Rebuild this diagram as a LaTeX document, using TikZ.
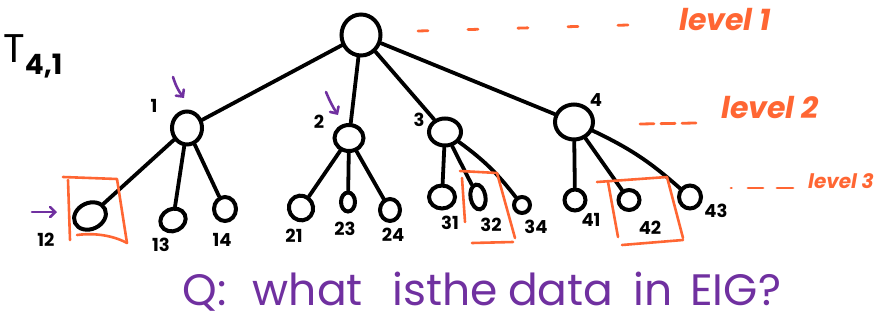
\documentclass[tikz,border=0pt]{standalone}
\usepackage{fontspec}
\setmainfont{Poppins}
\usetikzlibrary{shapes.geometric,arrows.meta}
\definecolor{inkorange}{RGB}{255,102,51}
\definecolor{inkpurple}{RGB}{112,48,160}

\begin{document}
\begin{tikzpicture}[x=1pt,y=-1pt,
  vert/.style={draw, ellipse, line width=4pt, inner sep=0pt},
  edge/.style={line width=3.8pt, line cap=round},
  lbl/.style={font=\bfseries\fontsize{18}{18}\selectfont, inner sep=0pt},
  hilite/.style={draw=inkorange, line width=2.6pt, line cap=round, line join=round},
  pointer/.style={draw=inkpurple, line width=2.6pt, line cap=round,
    -{Straight Barb[length=5pt,width=10pt,line cap=round]}},
  levtext/.style={text=inkorange, font=\bfseries\itshape\fontsize{30}{30}\selectfont, inner sep=0pt},
  levdash/.style={draw=inkorange, line width=2.8pt, line cap=round}]

\useasboundingbox (0,0) rectangle (877,321);

% tree title
\node[font=\fontsize{40}{40}\selectfont, inner sep=0pt] (title) at (33,56) {T\textsubscript{\bfseries 4,1}};

% root and level-2 vertices
\node[vert, minimum width=39pt, minimum height=41pt] (r) at (361,35) {};
\node[vert, minimum width=30pt, minimum height=33pt] (n1) at (187,128) {};
\node[vert, minimum width=29pt, minimum height=26pt] (n2) at (349,138) {};
\node[vert, minimum width=32pt, minimum height=27pt] (n3) at (445,132) {};
\node[vert, minimum width=38pt, minimum height=35pt] (n4) at (574,122) {};

% level-3 vertices
\node[vert, minimum width=33pt, minimum height=26pt, rotate=25] (n12) at (90,216) {};
\node[vert, minimum width=26pt, minimum height=22pt, rotate=25] (n13) at (173,220) {};
\node[vert, minimum width=22pt, minimum height=24pt] (n14) at (225,209) {};
\node[vert, minimum width=24pt, minimum height=25pt, rotate=30] (n21) at (301,208) {};
\node[vert, minimum width=14pt, minimum height=19pt] (n23) at (348,202) {};
\node[vert, minimum width=20pt, minimum height=22pt] (n24) at (390,210) {};
\node[vert, minimum width=26pt, minimum height=23pt] (n31) at (442,197) {};
\node[vert, minimum width=15pt, minimum height=25pt, rotate=10] (n32) at (478,197) {};
\node[vert, minimum width=16pt, minimum height=16pt] (n34) at (522,205) {};
\node[vert, minimum width=21pt, minimum height=21pt] (n41) at (575,200) {};
\node[vert, minimum width=21pt, minimum height=20pt] (n42) at (629,200) {};
\node[vert, minimum width=22pt, minimum height=23pt] (n43) at (690,197) {};

% tree edges
\draw[edge] (r) -- (n1);
\draw[edge] (r) -- (n2);
\draw[edge] (r) -- (n3);
\draw[edge] (r) -- (n4);
\draw[edge] (n1) -- (n12);
\draw[edge] (n1) -- (n13);
\draw[edge] (n1) -- (n14);
\draw[edge] (n2) -- (n21);
\draw[edge] (n2) -- (n23);
\draw[edge] (n2) -- (n24);
\draw[edge] (n3) -- (n31);
\draw[edge] (n3) -- (n32);
\draw[edge] (n3) to[bend left=8] (n34);
\draw[edge] (n4) -- (n41);
\draw[edge] (n4) -- (n42);
\draw[edge] (n4) to[bend left=8] (n43);

% vertex labels
\node[lbl] (t1) at (154,106) {1};
\node[lbl] (t2) at (319,122) {2};
\node[lbl] (t3) at (419,120) {3};
\node[lbl] (t4) at (596,100) {4};
\node[lbl] (t12) at (46,240) {12};
\node[lbl] (t13) at (161,245) {13};
\node[lbl] (t14) at (222,240) {14};
\node[lbl] (t21) at (294,236) {21};
\node[lbl] (t23) at (345,229) {23};
\node[lbl] (t24) at (393,235) {24};
\node[lbl] (t31) at (450,223) {31};
\node[lbl] (t32) at (491,225) {32};
\node[lbl] (t34) at (536,227) {34};
\node[lbl] (t41) at (591,220) {41};
\node[lbl] (t42) at (650,228) {42};
\node[lbl] (t43) at (716,211) {43};

% highlighted leaves
\draw[hilite] (63,177) -- (117,179) -- (127,243);
\draw[hilite] (68,180) -- (70,240);
\draw[hilite] (77,235) .. controls (100,232) and (118,238) .. (127,243);
\draw[hilite] (460,171) -- (497,173) -- (515,238);
\draw[hilite] (462,178) -- (465,222);
\draw[hilite] (472,243) -- (513,242);
\draw[hilite] (597,182) -- (667,177) -- (683,238);
\draw[hilite] (608,182) -- (618,237);
\draw[hilite] (622,245) -- (683,240);

% pointers
\coordinate (p1s) at (173,77);  \coordinate (p1e) at (184,98);
\coordinate (p2s) at (326,92);  \coordinate (p2e) at (338,115);
\coordinate (p3s) at (32,212);  \coordinate (p3e) at (57,212);
\draw[pointer] (p1s) to[bend right=10] (p1e);
\draw[pointer] (p2s) to[bend right=5] (p2e);
\draw[pointer] (p3s) -- (p3e);

% levels
\coordinate (d1s) at (418,31); \coordinate (d1e) at (628,25);
\coordinate (d2s) at (640,124); \coordinate (d2e) at (696,123);
\coordinate (d3s) at (731,188); \coordinate (d3e) at (793,188);
\draw[levdash, dash pattern=on 10pt off 40pt] (d1s) -- (d1e);
\draw[levdash, dash pattern=on 14pt off 7pt] (d2s) -- (d2e);
\draw[levdash, dash pattern=on 0.5pt off 16.5pt on 15pt off 14pt on 16pt off 20pt] (d3s) -- (d3e);
\node[levtext] (lev1) at (725,20) {level 1};
\node[levtext] (lev2) at (770,108) {level 2};
\node[levtext, font=\bfseries\itshape\fontsize{20}{20}\selectfont, anchor=east] (lev3) at (874,181) {level 3};

% question
\node[text=inkpurple, font=\fontsize{44}{44}\selectfont, inner sep=0pt] (q) at (482,292)
  {Q:\hspace{26pt}what\hspace{30pt}isthe\hspace{10pt}data\hspace{20pt}in\hspace{18pt}EIG?};
\end{tikzpicture}
\end{document}
